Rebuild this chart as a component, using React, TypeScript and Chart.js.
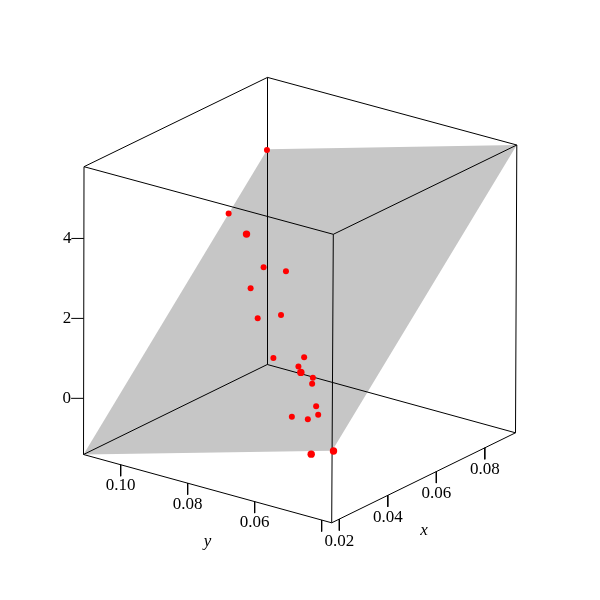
import React, { useEffect, useRef } from "react";
import { Chart, registerables } from "chart.js";

Chart.register(...registerables);

// Observations
const xValues = [0.09246, 0.07664, 0.07144, 0.06304, 0.06196, 0.05785, 0.05027, 0.051, 0.04031, 0.04037, 0.03807, 0.03656, 0.03517, 0.03367, 0.02802, 0.02592, 0.02552, 0.0248, 0.01686, 0.01688];
const yValues = [0.1111, 0.1111, 0.10202, 0.09086, 0.08342, 0.09097, 0.08338, 0.07696, 0.07149, 0.06238, 0.06242, 0.0606, 0.05601, 0.05514, 0.04985, 0.04772, 0.05527, 0.04999, 0.04322, 0.0366];
const zValues = [3.981, 2.855, 2.703, 2.376, 2.48, 2.003, 1.648, 1.857, 1.227, 1.453, 1.289, 1.225, 1.237, 1.152, 0.878, 0.779, 0.569, 0.646, 0.165, 0.395];

// Axis limits and ticks
const xLimits = [0.01686, 0.09266];
const yLimits = [0.037, 0.1111];
const zLimits = [-1.405, 5.795];
const xTicks = [0.02, 0.04, 0.06, 0.08];
const yTicks = [0.1, 0.08, 0.06, 0.04];
const zTicks = [0, 2, 4];
const xTickLabels = ["0.02", "0.04", "0.06", "0.08"];
const yTickLabels = ["0.10", "0.08", "0.06", ""];
const zTickLabels = ["0", "2", "4"];

// Fitted plane height (share of the z range) at the four x/y limits
const planeHeights = [0, 0.25, 1, 0.75];

const LARGE_POINTS = new Set([2, 11, 18, 19]);

type P = { x: number; y: number };

const project = (x: number, y: number, z: number): P => {
  const xf = (x - xLimits[0]) / (xLimits[1] - xLimits[0]);
  const yf = (yLimits[1] - y) / (yLimits[1] - yLimits[0]);
  const zf = (z - zLimits[0]) / (zLimits[1] - zLimits[0]);
  return {
    x: 83.5 + (183.8 - 0.3 * zf) * xf + (248.2 + 1.1 * zf) * yf + 0.5 * zf,
    y: 454.5 + (-90 + 0.7 * zf) * xf + (68.3 - 0.7 * zf) * yf - 287.8 * zf,
  };
};

const GAP: P = { x: NaN, y: NaN };
const [x0, x1] = xLimits;
const [y0, y1] = yLimits;
const [z0, z1] = zLimits;

const boxEdges: P[] = [];
const addEdge = (a: number[], b: number[]) => {
  boxEdges.push(project(a[0], a[1], a[2]), project(b[0], b[1], b[2]), GAP);
};
for (const z of [z0, z1]) {
  addEdge([x0, y0, z], [x1, y0, z]);
  addEdge([x0, y1, z], [x1, y1, z]);
  addEdge([x0, y0, z], [x0, y1, z]);
  addEdge([x1, y0, z], [x1, y1, z]);
}
for (const x of [x0, x1]) {
  for (const y of [y0, y1]) addEdge([x, y, z0], [x, y, z1]);
}

const tickMarks: P[] = [];
const pushTick = (p: P, dx: number, dy: number) => {
  tickMarks.push(p, { x: p.x + dx, y: p.y + dy }, GAP);
};
const xTickAt = xTicks.map((v) => project(v, y0, z0));
const yTickAt = yTicks.map((v) => project(x0, v, z0));
const zTickAt = zTicks.map((v) => project(x0, y1, v));
xTickAt.forEach((p) => pushTick(p, 0, 11.5));
yTickAt.forEach((p) => pushTick(p, 0, 11.5));
zTickAt.forEach((p) => pushTick(p, -12.5, 0));

const zAt = (share: number) => z0 + share * (z1 - z0);
const planeCorners: P[] = [
  project(x0, y1, zAt(planeHeights[0])),
  project(x0, y0, zAt(planeHeights[1])),
  project(x1, y0, zAt(planeHeights[2])),
  project(x1, y1, zAt(planeHeights[3])),
];

const observed: P[] = xValues.map((v, i) => project(v, yValues[i], zValues[i]));

const planePlugin = {
  id: "planePolygon",
  beforeDatasetsDraw(chart: any) {
    const pts = chart.getDatasetMeta(3).data;
    const ctx = chart.ctx;
    ctx.save();
    ctx.fillStyle = "#c6c6c6";
    ctx.beginPath();
    pts.forEach((pt: any, i: number) => (i ? ctx.lineTo(pt.x, pt.y) : ctx.moveTo(pt.x, pt.y)));
    ctx.closePath();
    ctx.fill();
    ctx.restore();
  },
};

const textPlugin = {
  id: "axisText",
  afterDraw(chart: any) {
    const ctx = chart.ctx;
    const sx = chart.scales.x;
    const sy = chart.scales.y;
    const put = (t: string, x: number, y: number, align: CanvasTextAlign = "center") => {
      ctx.textAlign = align;
      ctx.fillText(t, sx.getPixelForValue(x), sy.getPixelForValue(y));
    };
    ctx.save();
    ctx.fillStyle = "#000";
    ctx.textBaseline = "middle";
    ctx.font = '17px "Liberation Serif"';
    xTickLabels.forEach((t, i) => put(t, xTickAt[i].x, xTickAt[i].y + 22));
    yTickLabels.forEach((t, i) => put(t, yTickAt[i].x, yTickAt[i].y + 21));
    zTickLabels.forEach((t, i) => put(t, zTickAt[i].x - 12.5, zTickAt[i].y + 0.5, "right"));
    ctx.font = 'italic 17px "Liberation Serif"';
    put("x", 424, 530.5);
    put("y", 207.5, 542);
    ctx.restore();
  },
};

export default function App() {
  const ref = useRef<HTMLCanvasElement>(null);
  useEffect(() => {
    if (!ref.current) return;
    const line = { showLine: true, borderColor: "#000", borderWidth: 1, pointRadius: 0, spanGaps: false };
    const chart = new Chart(ref.current, {
      type: "scatter",
      data: {
        datasets: [
          {
            label: "observations",
            data: observed,
            backgroundColor: "#ff0000",
            borderWidth: 0,
            pointRadius: observed.map((_, i) => (LARGE_POINTS.has(i) ? 3.7 : 3)),
          },
          { label: "box", data: boxEdges, ...line },
          { label: "ticks", data: tickMarks, ...line },
          { label: "plane", data: planeCorners, pointRadius: 0, borderWidth: 0, showLine: false },
        ],
      },
      options: {
        animation: false,
        responsive: false,
        devicePixelRatio: 1,
        layout: { padding: 0, autoPadding: false },
        events: [],
        scales: {
          x: { type: "linear", min: 0, max: 600, display: false },
          y: { type: "linear", min: 0, max: 600, reverse: true, display: false },
        },
        plugins: { legend: { display: false }, title: { display: false }, tooltip: { enabled: false } },
      },
      plugins: [planePlugin, textPlugin],
    } as any);
    return () => chart.destroy();
  }, []);
  return (
    <div style={{ position: "absolute", left: 0, top: 0, width: 600, height: 600, background: "#fff" }}>
      <canvas ref={ref} width={600} height={600} style={{ display: "block" }} />
    </div>
  );
}
